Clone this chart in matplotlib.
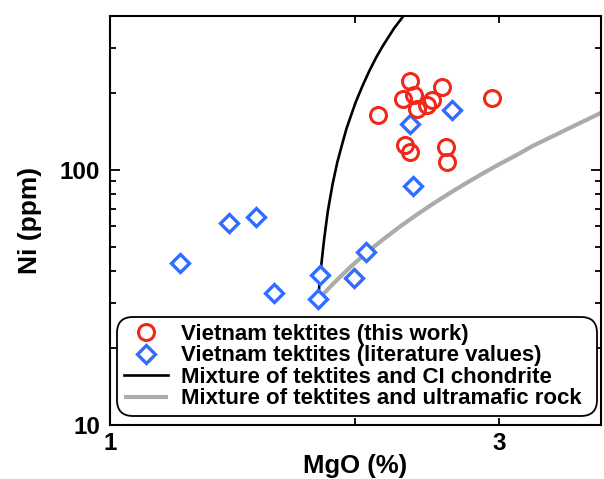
import matplotlib
matplotlib.use("Agg")
import matplotlib.pyplot as plt
from matplotlib.ticker import FixedLocator, FixedFormatter, NullFormatter

# Vietnam tektites analysed in this work
tw_mgo = [2.13, 2.29, 2.33, 2.36, 2.38, 2.45, 2.48, 2.55, 2.94, 2.30, 2.33, 2.58, 2.59]
tw_ni = [164, 189, 223, 196, 173, 179, 188, 211, 191, 125, 117, 123, 107]

# Vietnam tektites, literature values
lit_mgo = [2.63, 2.33, 2.35, 1.22, 1.40, 1.51, 1.59, 1.81, 1.80, 1.99, 2.06]
lit_ni = [171, 151, 86, 43, 62, 65, 33, 38.7, 31.1, 37.7, 47.6]

# Mixing line: tektites + CI chondrite
ci_mgo = [1.80, 1.81, 1.83, 1.85, 1.875, 1.90, 1.925, 1.95, 2.00, 2.04, 2.08, 2.12,
          2.16, 2.23, 2.29]
ci_ni = [31, 38.5, 53, 69, 88, 107, 125, 145, 183, 213, 244, 275, 305, 358, 400]

# Mixing line: tektites + ultramafic rock
um_mgo = [1.80, 1.88, 1.97, 2.07, 2.16, 2.27, 2.38, 2.49, 2.62, 2.74, 2.87, 3.00,
          3.15, 3.30, 3.47, 3.65, 3.82, 4.00]
um_ni = [31, 35.9, 41.5, 47.7, 53.2, 60, 66.8, 73.6, 81.6, 89, 97, 105,
         114, 124, 134, 145, 155.5, 167]

labels = [
    "Vietnam tektites (this work)",
    "Vietnam tektites (literature values)",
    "Mixture of tektites and CI chondrite",
    "Mixture of tektites and ultramafic rock",
]

plt.rcParams["font.family"] = ["Liberation Sans", "DejaVu Sans"]
plt.rcParams["font.weight"] = "bold"

fig = plt.figure(figsize=(6.04, 4.79), dpi=100)
ax = fig.add_axes([0.1821, 0.1127, 0.8129, 0.8539])
ax.set_xscale("log")
ax.set_yscale("log")

h_ci, = ax.plot(ci_mgo, ci_ni, color="black", lw=1.9, zorder=2)
h_um, = ax.plot(um_mgo, um_ni, color="#ababab", lw=3.0, zorder=2,
                solid_capstyle="butt")
h_lit, = ax.plot(lit_mgo, lit_ni, ls="none", marker="D", ms=9,
                 mfc="white", mec="#2f6cff", mew=2.4, zorder=3)
h_tw, = ax.plot(tw_mgo, tw_ni, ls="none", marker="o", ms=11.5,
                mfc="none", mec="#f0281a", mew=2.2, zorder=4)

ax.set_xlim(1, 4)
ax.set_ylim(10, 400)

ax.xaxis.set_major_locator(FixedLocator([1, 3]))
ax.xaxis.set_major_formatter(FixedFormatter(["1", "3"]))
ax.xaxis.set_minor_locator(FixedLocator([2]))
ax.xaxis.set_minor_formatter(NullFormatter())

ax.yaxis.set_major_locator(FixedLocator([10, 100]))
ax.yaxis.set_major_formatter(FixedFormatter(["10", "100"]))
ax.yaxis.set_minor_locator(FixedLocator([20, 30, 40, 50, 60, 70, 80, 90, 200, 300]))
ax.yaxis.set_minor_formatter(NullFormatter())

ax.tick_params(which="both", direction="in", top=True, right=True,
               width=1.3, labelsize=17.5)
ax.tick_params(axis="x", which="major", length=5, pad=5)
ax.tick_params(axis="x", which="minor", length=5)
ax.tick_params(axis="y", which="major", length=7.5, pad=7)
ax.tick_params(axis="y", which="minor", length=4.5)
for sp in ax.spines.values():
    sp.set_linewidth(1.5)

ax.set_xlabel("MgO (%)", fontsize=18.5, fontweight="bold", labelpad=-1)
ax.set_ylabel("Ni (ppm)", fontsize=19, fontweight="bold", labelpad=13)

# legend box spans a fixed width in figure pixels
leg_x0, leg_y0, leg_w, leg_h = 117 / 604, 1 - 416 / 479, 480 / 604, 99 / 479
leg = ax.legend([h_tw, h_lit, h_ci, h_um], labels,
                loc="lower left", mode="expand",
                bbox_to_anchor=(leg_x0, leg_y0, leg_w, leg_h),
                bbox_transform=fig.transFigure, borderaxespad=0,
                fontsize=16, labelspacing=0.02, handlelength=2.0,
                handletextpad=0.6, borderpad=0.3,
                frameon=True, fancybox=True, framealpha=1,
                edgecolor="black")
frame = leg.get_frame()
frame.set_linewidth(1.3)
frame.set_boxstyle("round", pad=0.0, rounding_size=0.7)

fig.savefig("out.png", dpi=100)
